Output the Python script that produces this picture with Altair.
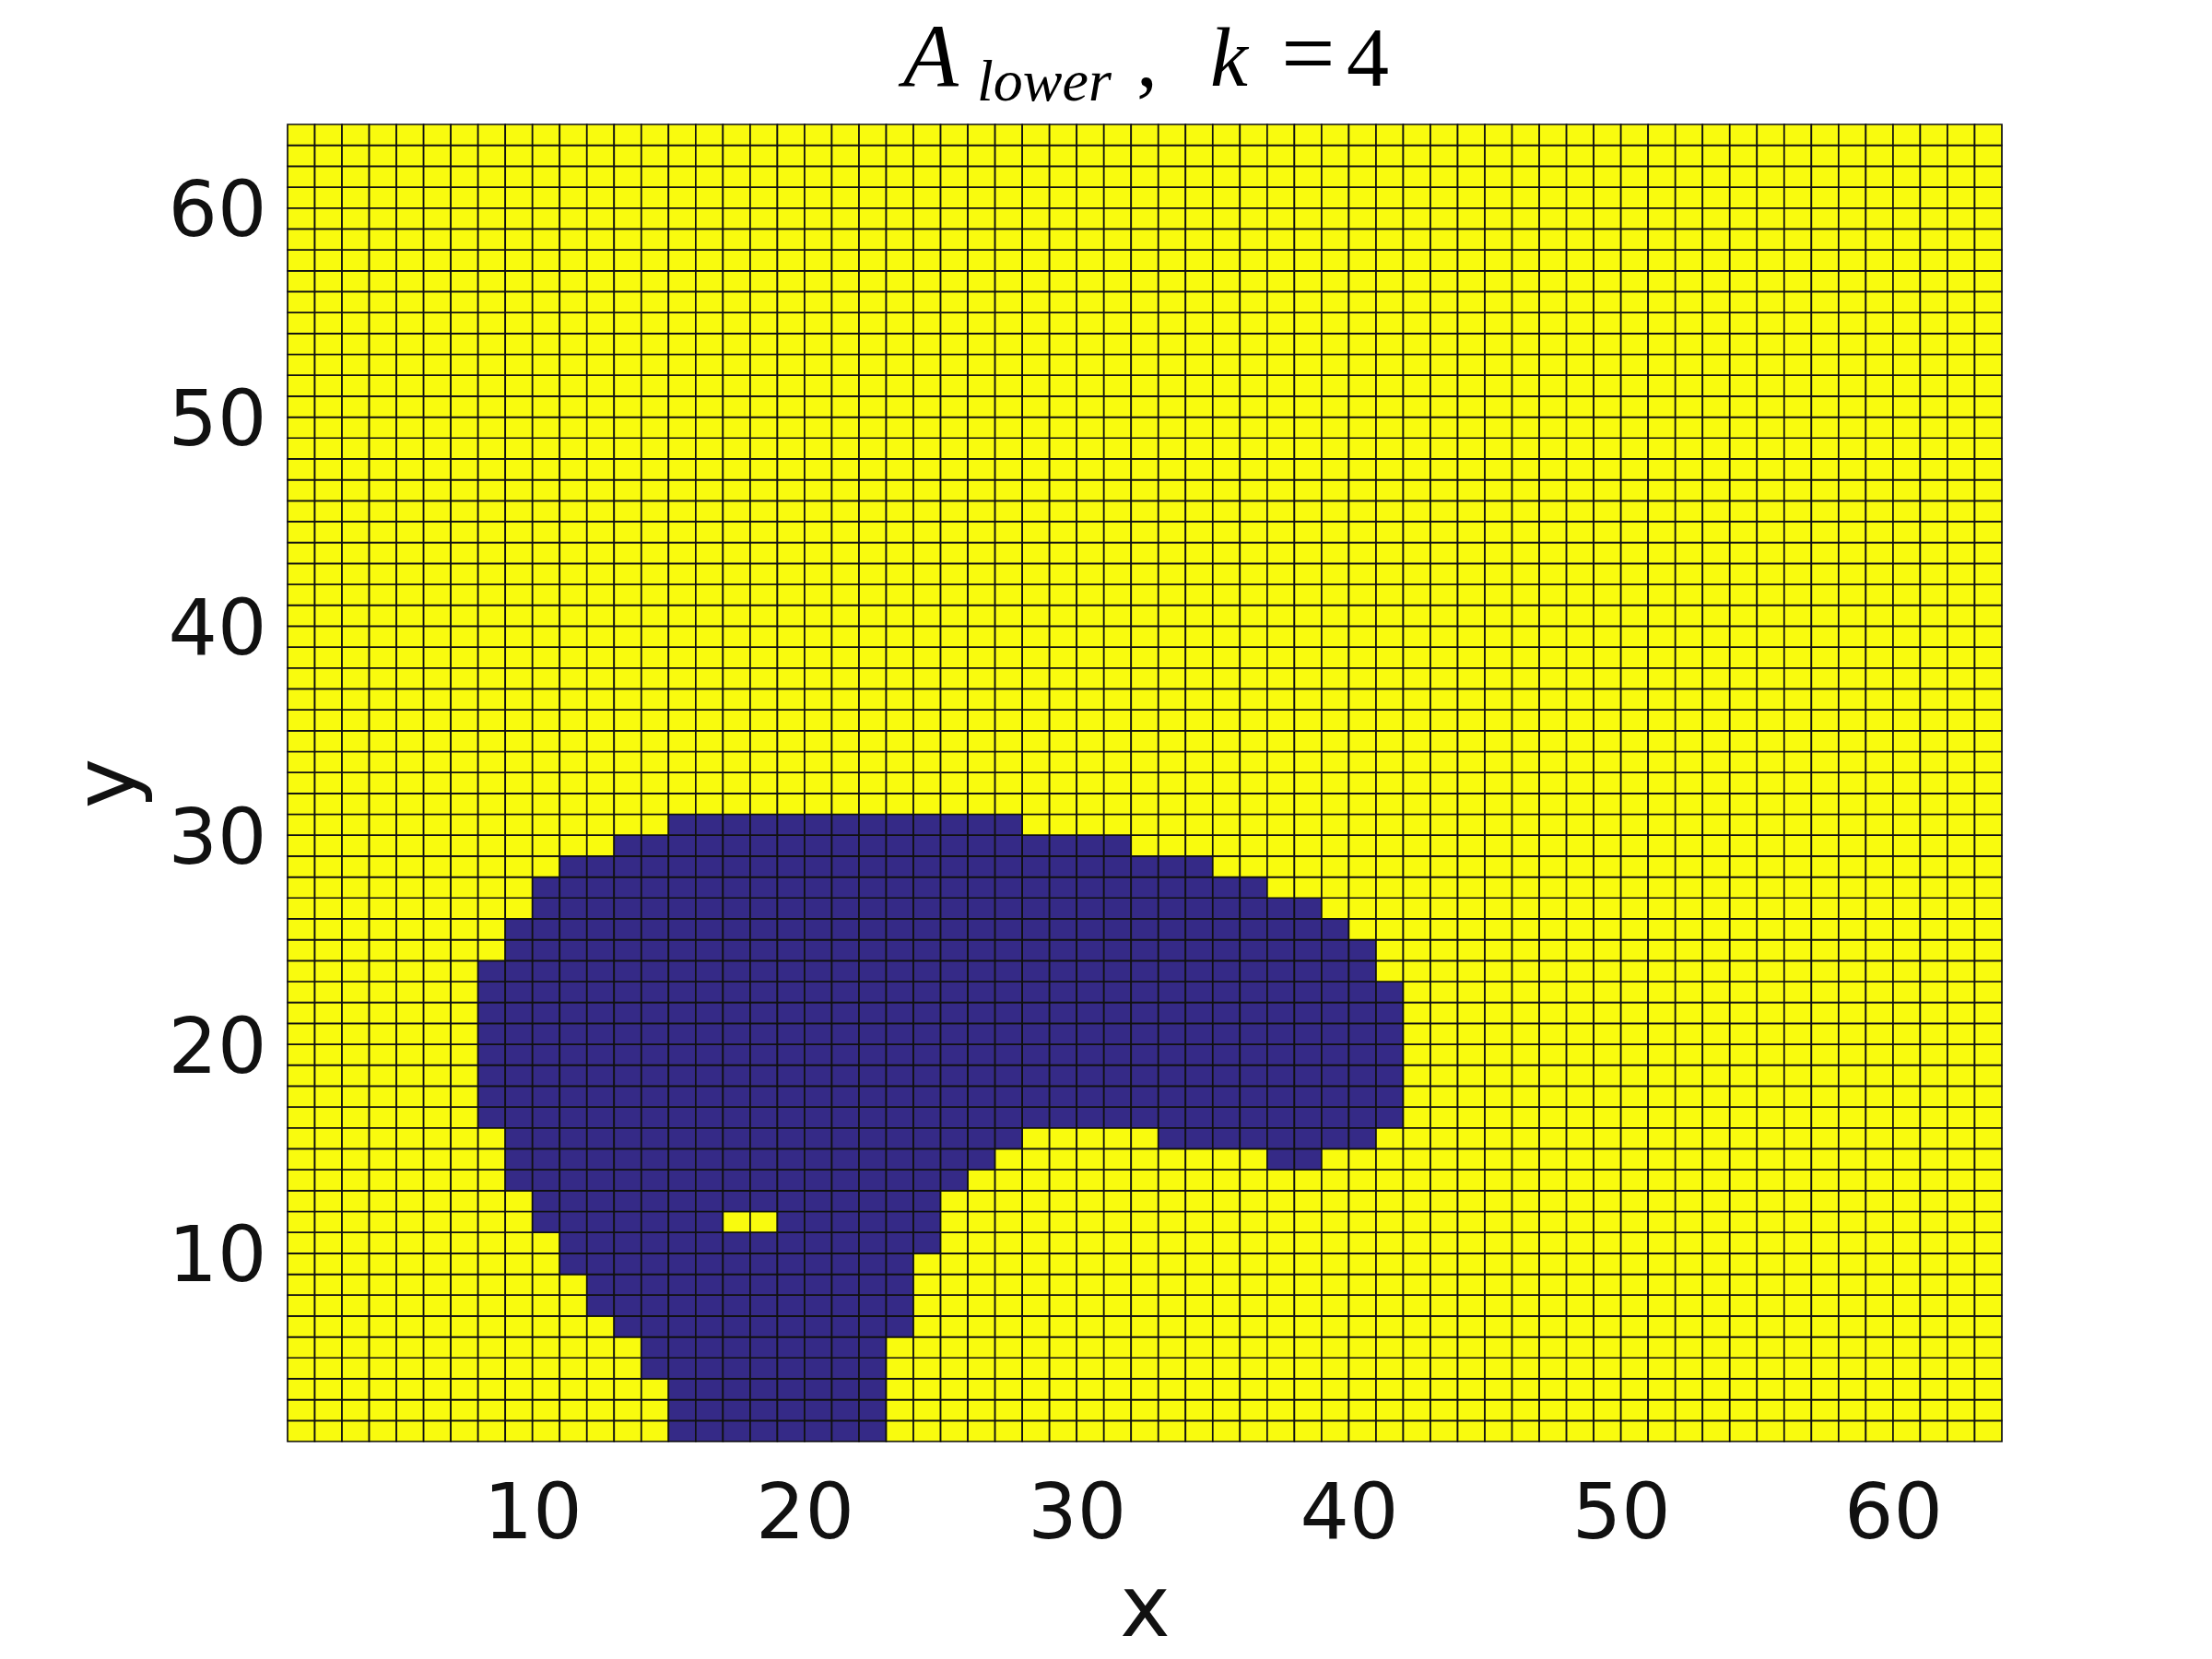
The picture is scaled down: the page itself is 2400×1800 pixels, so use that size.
import altair as alt
import pandas as pd

# ---- data (cell lower-left corners, 63x63 pcolor grid on 1..64) ----
N = 64
row_y     = list(range(1, 31))
row_start = [15, 15, 15, 14, 14, 13, 12, 12, 11, 11, 10, 10, 9, 9, 9,
             8, 8, 8, 8, 8, 8, 8, 8, 9, 9, 10, 10, 11, 13, 15]
row_end   = [22, 22, 22, 22, 22, 23, 23, 23, 23, 24, 24, 24, 25, 26, 27,
             41, 41, 41, 41, 41, 41, 41, 40, 40, 39, 38, 36, 34, 31, 27]
extra_y     = [14, 15]
extra_start = [37, 33]
extra_end   = [38, 40]
hole_y     = [11]
hole_start = [17]
hole_end   = [18]

x_ticks = [10, 20, 30, 40, 50, 60]
y_ticks = [10, 20, 30, 40, 50, 60]
levels = [0, 1]
level_colors = ["#352a87", "#f9fb0e"]

title_parts = ["A", "lower", ",", "k", "=", "4"]

# ---- build grid table ----
blue = set()
for y, s, e in zip(row_y, row_start, row_end):
    for x in range(s, e + 1):
        blue.add((x, y))
for y, s, e in zip(extra_y, extra_start, extra_end):
    for x in range(s, e + 1):
        blue.add((x, y))
for y, s, e in zip(hole_y, hole_start, hole_end):
    for x in range(s, e + 1):
        blue.discard((x, y))

rows = []
for y in range(1, N):
    for x in range(1, N):
        rows.append({"x0": x, "x1": x + 1, "y0": y, "y1": y + 1,
                     "v": 0 if (x, y) in blue else 1})
df = pd.DataFrame(rows)

W, H = 1860, 1429

xs = alt.Scale(domain=[1, N], nice=False, zero=False)
ys = alt.Scale(domain=[1, N], nice=False, zero=False)

grid = alt.Chart(df).mark_rect(stroke="#111111", strokeWidth=1.7).encode(
    x=alt.X("x0:Q", scale=xs,
            axis=alt.Axis(values=x_ticks, title="x", ticks=False, domain=False, grid=False,
                          labelFont="DejaVu Sans", labelFontSize=84, labelColor="#111111",
                          labelPadding=38, labelFlush=False, labelOverlap=False,
                          titleFont="DejaVu Sans", titleFontSize=92, titleFontWeight="normal",
                          titleColor="#111111", titleBaseline="alphabetic",
                          titleY=210, titleX=W / 2)),
    x2="x1:Q",
    y=alt.Y("y0:Q", scale=ys,
            axis=alt.Axis(values=y_ticks, title="y", ticks=False, domain=False, grid=False,
                          labelFont="DejaVu Sans", labelFontSize=84, labelColor="#111111",
                          labelPadding=23, labelOffset=5, labelFlush=False, labelOverlap=False,
                          titleFont="DejaVu Sans", titleFontSize=92, titleFontWeight="normal",
                          titleColor="#111111", titleAngle=270, titleBaseline="alphabetic",
                          titleX=-167, titleY=H / 2)),
    y2="y1:Q",
    color=alt.Color("v:N", scale=alt.Scale(domain=levels, range=level_colors), legend=None),
)


def piece(text, px, py, size, style):
    return alt.Chart(pd.DataFrame({"t": [text]})).mark_text(
        align="left", baseline="alphabetic", font="Liberation Serif",
        fontSize=size, fontStyle=style, color="#000000"
    ).encode(x=alt.value(px), y=alt.value(py), text="t:N")


title_layers = [
    piece(title_parts[0], 668, -42, 98, "italic"),
    piece(title_parts[1], 748, -26, 64, "italic"),
    piece(title_parts[2], 921, -42, 92, "normal"),
    piece(title_parts[3], 1001, -42, 92, "italic"),
    piece(title_parts[4], 1078, -42, 104, "normal"),
    piece(title_parts[5], 1149, -42, 92, "normal"),
]

chart = alt.layer(grid, *title_layers).properties(
    width=W, height=H,
    autosize=alt.AutoSizeParams(type="none"),
    padding={"left": 304, "top": 127, "right": 220, "bottom": 228},
).configure_view(stroke=None).configure(background="white")

chart.save("out.html", embed_options={"renderer": "svg", "actions": False})
